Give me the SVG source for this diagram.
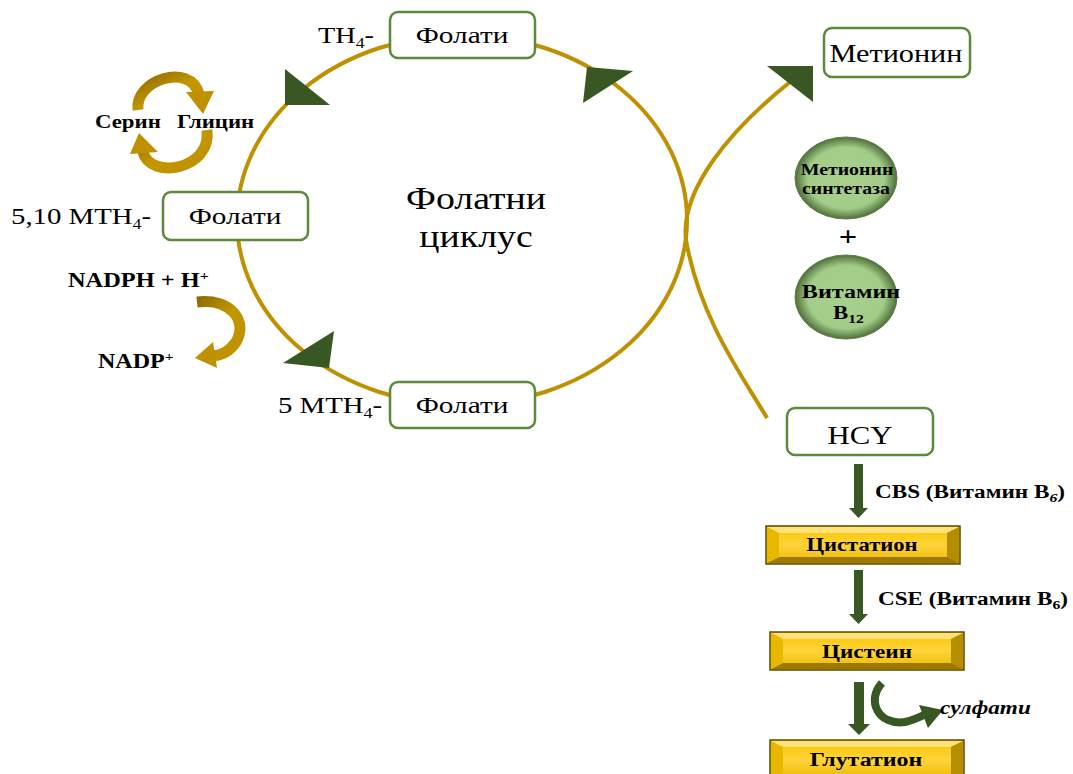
<svg xmlns="http://www.w3.org/2000/svg" width="1073" height="774" viewBox="0 0 1073 774">
<defs>
<style>
.t{font-family:"Liberation Serif","Times New Roman",serif;fill:#000}
.b{font-weight:bold}
.box{fill:#fff;stroke:#5b8a3a;stroke-width:2.5}
.cyc{fill:none;stroke:#bf9000;stroke-width:4}
.ah{fill:#385723}
.gold{fill:none;stroke:url(#goldStroke);stroke-width:11}
.garr{fill:#385723}
.face{fill:url(#goldFace);stroke:#5e4a00;stroke-width:1.5}
.bt{fill:#ffe27a}
.bb{fill:#9c7800}
.bl{fill:#e8b800}
.br{fill:#b58e00}
</style>
<linearGradient id="goldStroke" x1="0" y1="0" x2="1" y2="1">
<stop offset="0" stop-color="#8f6d00"/><stop offset="0.5" stop-color="#c49600"/><stop offset="1" stop-color="#bf9000"/>
</linearGradient>
<linearGradient id="goldFace" x1="0" y1="0" x2="0" y2="1">
<stop offset="0" stop-color="#f5c400"/><stop offset="0.5" stop-color="#ffd43b"/><stop offset="1" stop-color="#e9b800"/>
</linearGradient>
<radialGradient id="greenBall" cx="0.5" cy="0.5" r="0.5">
<stop offset="0" stop-color="#a9d18e"/><stop offset="0.75" stop-color="#a3cc88"/><stop offset="1" stop-color="#4f6f3a"/>
</radialGradient>
</defs>

<g id="connectors">
<ellipse class="cyc" cx="462" cy="220" rx="225" ry="185"/>
<path class="cyc" d="M767,418 C745,380 700,320 686,240 C680,190 730,130 790,82"/>
<polygon class="ah" points="285,69 285,105 330,105"/>
<polygon class="ah" points="587,67 633,71 583,103"/>
<polygon class="ah" points="283,363 334,331 329,368"/>
<polygon class="ah" points="767,66 813,66 813,102"/>
<path class="gold" d="M138,110 C134,80 190,62 199,94"/>
<polygon fill="#bf9000" points="186,92 214,91 203,114"/>
<path class="gold" d="M207,130 C212,170 150,180 143,152"/>
<polygon fill="#bf9000" points="130,154 158,152 139,133"/>
<path class="gold" d="M197,302 C232,298 248,322 236,342 C229,352 222,355 212,356"/>
<polygon fill="#bf9000" points="195,358 213,342 217,368"/>
<polygon class="garr" points="854,464 863,464 863,508 868,508 858.5,518 849,508 854,508"/>
<polygon class="garr" points="854,570 863,570 863,614 868,614 858.5,624 849,614 854,614"/>
<polygon class="garr" points="854,682 864,682 864,724 870,724 859,735 848,724 854,724"/>
<path d="M882,683 C866,700 878,726 905,722 C914,720 920,717 926,714" fill="none" stroke="#385723" stroke-width="8"/>
<polygon class="garr" points="943,710 919,705 928,728"/>
</g>

<g id="node-th4">
<text class="t" font-size="24" transform="translate(318,43) scale(1.18,1)">TH<tspan font-size="15" dy="5">4</tspan><tspan dy="-5">-</tspan></text>
<rect class="box" x="390" y="12" width="145" height="46" rx="8"/>
<text class="t" font-size="24" text-anchor="middle" transform="translate(462,43) scale(1.22,1)">Фолати</text>
</g>

<g id="node-510mth4">
<text class="t" font-size="24" transform="translate(11,224) scale(1.2,1)">5,10 MTH<tspan font-size="15" dy="5">4</tspan><tspan dy="-5">-</tspan></text>
<rect class="box" x="163" y="192" width="145" height="48" rx="8"/>
<text class="t" font-size="24" text-anchor="middle" transform="translate(235,224) scale(1.22,1)">Фолати</text>
</g>

<g id="node-5mth4">
<text class="t" font-size="24" transform="translate(278,413) scale(1.2,1)">5 MTH<tspan font-size="15" dy="5">4</tspan><tspan dy="-5">-</tspan></text>
<rect class="box" x="390" y="382" width="145" height="46" rx="8"/>
<text class="t" font-size="24" text-anchor="middle" transform="translate(462,413) scale(1.22,1)">Фолати</text>
</g>

<g id="label-cycle">
<text class="t" font-size="31" text-anchor="middle" transform="translate(476,209) scale(1.22,1)">Фолатни</text>
<text class="t" font-size="31" text-anchor="middle" transform="translate(476,247) scale(1.22,1)">циклус</text>
</g>

<g id="label-serin">
<text class="t b" font-size="19" transform="translate(95,128) scale(1.2,1)">Серин</text>
<text class="t b" font-size="19" transform="translate(177,128) scale(1.2,1)">Глицин</text>
</g>

<g id="label-nadph">
<text class="t b" font-size="20" transform="translate(68,287) scale(1.22,1)">NADPH + H<tspan font-size="13" dy="-7">+</tspan></text>
<text class="t b" font-size="20" transform="translate(98,368) scale(1.2,1)">NADP<tspan font-size="13" dy="-7">+</tspan></text>
</g>

<g id="node-metionin">
<rect class="box" x="824" y="28" width="146" height="49" rx="8"/>
<text class="t" font-size="25" text-anchor="middle" transform="translate(896,62) scale(1.21,1)">Метионин</text>
</g>

<g id="node-synthetase">
<ellipse cx="846" cy="178" rx="51" ry="41" fill="url(#greenBall)" stroke="#5c7f45" stroke-width="1"/>
<text class="t b" font-size="16" text-anchor="middle" transform="translate(847,175) scale(1.24,1)">Метионин</text>
<text class="t b" font-size="16" text-anchor="middle" transform="translate(846,194) scale(1.24,1)">синтетаза</text>
</g>

<g id="label-plus">
<text class="t b" font-size="27" text-anchor="middle" transform="translate(848,246) scale(1.2,1)">+</text>
</g>

<g id="node-b12">
<ellipse cx="846" cy="297" rx="51" ry="42" fill="url(#greenBall)" stroke="#5c7f45" stroke-width="1"/>
<text class="t b" font-size="19" text-anchor="middle" transform="translate(851,298) scale(1.27,1)">Витамин</text>
<text class="t b" font-size="19" transform="translate(833,319) scale(1.2,1)">B<tspan font-size="13" dy="4">12</tspan></text>
</g>

<g id="node-hcy">
<rect class="box" x="787" y="408" width="146" height="47" rx="8"/>
<text class="t" font-size="25" text-anchor="middle" transform="translate(860,444) scale(1.23,1)">HCY</text>
</g>

<g id="label-cbs">
<text class="t b" font-size="19" transform="translate(875,498) scale(1.22,1)">CBS (Витамин B<tspan font-size="13" dy="4" font-style="italic">6</tspan><tspan dy="-4">)</tspan></text>
</g>

<g id="node-cistation">
<rect class="face" x="766" y="526" width="194" height="38"/>
<polygon class="bt" points="767,527 959,527 947,533 779,533"/>
<polygon class="bb" points="767,563 959,563 947,557 779,557"/>
<polygon class="bl" points="767,527 779,533 779,557 767,563"/>
<polygon class="br" points="959,527 947,533 947,557 959,563"/>
<text class="t b" font-size="19" text-anchor="middle" transform="translate(862,551) scale(1.19,1)">Цистатион</text>
</g>

<g id="label-cse">
<text class="t b" font-size="19" transform="translate(878,605) scale(1.22,1)">CSE (Витамин B<tspan font-size="13" dy="4">6</tspan><tspan dy="-4">)</tspan></text>
</g>

<g id="node-cistein">
<rect class="face" x="770" y="632" width="194" height="38"/>
<polygon class="bt" points="771,633 963,633 951,639 783,639"/>
<polygon class="bb" points="771,669 963,669 951,663 783,663"/>
<polygon class="bl" points="771,633 783,639 783,663 771,669"/>
<polygon class="br" points="963,633 951,639 951,663 963,669"/>
<text class="t b" font-size="19" text-anchor="middle" transform="translate(867,658) scale(1.22,1)">Цистеин</text>
</g>

<g id="label-sulfati">
<text class="t b" font-size="19" font-style="italic" transform="translate(940,714) scale(1.22,1)">сулфати</text>
</g>

<g id="node-glutation">
<rect class="face" x="770" y="740" width="194" height="40"/>
<polygon class="bt" points="771,741 963,741 951,747 783,747"/>
<polygon class="bl" points="771,741 783,747 783,780 771,780"/>
<polygon class="br" points="963,741 951,747 951,780 963,780"/>
<text class="t b" font-size="19" text-anchor="middle" transform="translate(866,766) scale(1.26,1)">Глутатион</text>
</g>
</svg>
